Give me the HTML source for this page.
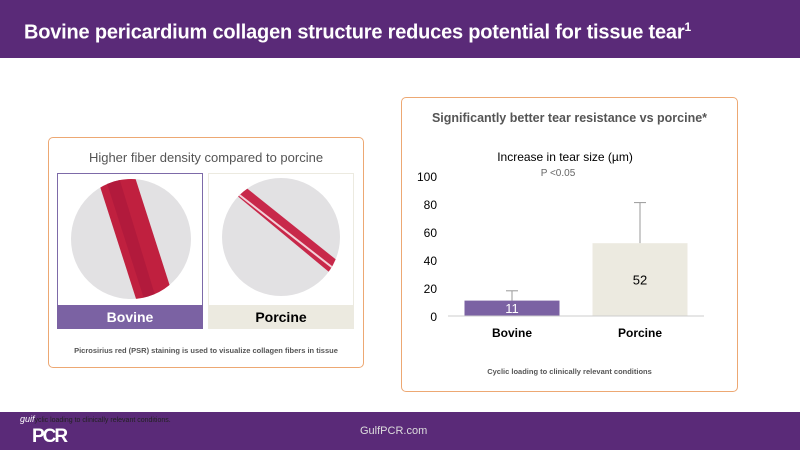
<!DOCTYPE html>
<html><head><meta charset="utf-8"><style>
body{margin:0;width:800px;height:450px;overflow:hidden;background:#fff;font-family:"Liberation Sans",sans-serif;position:relative}
.abs{position:absolute}
</style></head><body>
<div class="abs" style="left:0;top:0;width:800px;height:58px;background:#5a2a78"></div>
<div class="abs" style="left:24px;top:20px;color:#fff;font-size:20px;font-weight:bold;white-space:nowrap;letter-spacing:-0.2px">Bovine pericardium collagen structure reduces potential for tissue tear<sup style="font-size:12px">1</sup></div>

<div class="abs" style="left:48px;top:137px;width:314px;height:229px;border:1px solid #eda873;border-radius:5px"></div>
<div class="abs" style="left:48px;top:150px;width:316px;text-align:center;font-size:13px;color:#555">Higher fiber density compared to porcine</div>
<div class="abs" style="left:57px;top:173px;width:144px;height:131px;border:1px solid #7d6aa8;background:#fff;overflow:hidden">
 <svg width="144" height="131"><defs><clipPath id="c1"><circle cx="73" cy="65" r="60"/></clipPath></defs>
 <circle cx="73" cy="65" r="60" fill="#e2e1e3"/>
 <g clip-path="url(#c1)"><polygon points="38,0 76,0 118,131 80,131" fill="#c0203f"/><polygon points="46,0 60,0 100,131 88,131" fill="#a8183a" opacity=".6"/></g></svg>
</div>
<div class="abs" style="left:57px;top:305px;width:146px;height:24px;background:#7b62a3;color:#fff;font-weight:bold;font-size:14px;text-align:center;line-height:24px">Bovine</div>
<div class="abs" style="left:208px;top:173px;width:144px;height:131px;border:1px solid #eceae0;background:#fff;overflow:hidden">
 <svg width="144" height="131"><defs><clipPath id="c2"><circle cx="72" cy="63" r="59"/></clipPath></defs>
 <circle cx="72" cy="63" r="59" fill="#e2e1e3"/>
 <g clip-path="url(#c2)"><polygon points="20,15 30,8 130,88 120,98" fill="#c8284a"/><line x1="24" y1="16" x2="124" y2="94" stroke="#f3d0d8" stroke-width="2"/></g></svg>
</div>
<div class="abs" style="left:208px;top:305px;width:146px;height:24px;background:#eceae0;color:#000;font-weight:bold;font-size:14px;text-align:center;line-height:24px">Porcine</div>
<div class="abs" style="left:48px;top:346px;width:316px;text-align:center;font-size:7.5px;font-weight:bold;color:#555">Picrosirius red (PSR) staining is used to visualize collagen fibers in tissue</div>

<div class="abs" style="left:401px;top:97px;width:335px;height:293px;border:1px solid #eda873;border-radius:5px"></div>
<div class="abs" style="left:401px;top:111px;width:337px;text-align:center;font-size:12.5px;font-weight:bold;color:#555">Significantly better tear resistance vs porcine*</div>
<div class="abs" style="left:401px;top:367px;width:337px;text-align:center;font-size:7.5px;font-weight:bold;color:#555">Cyclic loading to clinically relevant conditions</div>
<svg class="abs" id="chart" style="left:0;top:0" width="800" height="450"></svg>

<div class="abs" style="left:0;top:412px;width:800px;height:38px;background:#5a2a78"></div>
<div class="abs" style="left:20px;top:414px;color:#fff;font-size:9px;font-style:italic">guif<span style="font-style:normal;font-size:7px;color:#222">yclic loading to clinically relevant conditions.</span></div>
<div class="abs" style="left:32px;top:426px;color:#fff;font-size:19px;font-weight:bold;letter-spacing:-2px">PCR</div>
<div class="abs" style="left:360px;top:425px;color:#ddd;font-size:11px">GulfPCR.com</div>

<script>
const categories=["Bovine","Porcine"];
const values=[11,52];
const errors=[18,81];
const yTicks=[0,20,40,60,80,100];
const colors=["#7b62a3","#eceae0"];
const labelColors=["#fff","#000"];
const svg=document.getElementById('chart');
const NS="http://www.w3.org/2000/svg";
const y0=316,y1=176,yMax=100;
function y(v){return y0-(y0-y1)*v/yMax;}
const xL=448,xR=704,band=(xR-xL)/categories.length,bw=95;
function xc(i){return xL+band*(i+0.5);}
function add(tag,attrs,text){const e=document.createElementNS(NS,tag);for(const k in attrs)e.setAttribute(k,attrs[k]);if(text!==undefined)e.textContent=text;svg.appendChild(e);return e;}
let t=add('text',{x:565,y:161,'text-anchor':'middle','font-size':12,fill:'#000','font-family':'Liberation Sans'},'Increase in tear size (µm)');


t=add('text',{x:558,y:176,'text-anchor':'middle','font-size':10,fill:'#666','font-family':'Liberation Sans'},'P <0.05');


yTicks.forEach(v=>{const e=add('text',{x:437,y:y(v)+5,'text-anchor':'end','font-size':12,fill:'#000','font-family':'Liberation Sans'},v);

});
categories.forEach((c,i)=>{
 const cx=xc(i);
 const eb=add('line',{x1:cx,x2:cx,y1:y(errors[i]),y2:y(values[i]),stroke:'#999','stroke-width':1});
 
 
 const cap=add('line',{x1:cx-6,x2:cx+6,y1:y(errors[i]),y2:y(errors[i]),stroke:'#999','stroke-width':1});
 
 
 const r=add('rect',{x:cx-bw/2,y:y(values[i]),width:bw,height:y0-y(values[i]),fill:colors[i]});
 
 
 const ly=values[i]<20?y0-3:(y(values[i])+y0)/2+5;
 const l=add('text',{x:cx,y:ly,'text-anchor':'middle','font-size':13,fill:labelColors[i],'font-family':'Liberation Sans'},values[i]);
 
 
 const xl=add('text',{x:cx,y:337,'text-anchor':'middle','font-size':12,'font-weight':'bold',fill:'#000','font-family':'Liberation Sans'},c);
 
 
});
const ax=add('line',{x1:xL,x2:xR,y1:y0,y2:y0,stroke:'#ccc','stroke-width':1});


</script>
</body></html>
